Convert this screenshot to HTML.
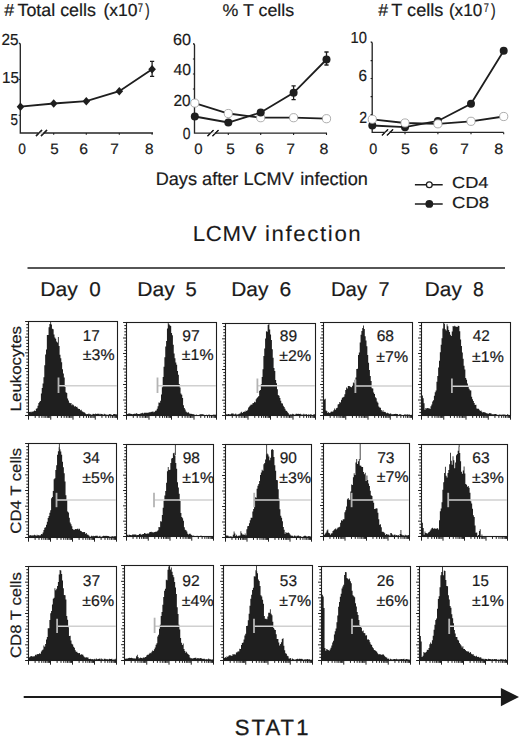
<!DOCTYPE html>
<html><head><meta charset="utf-8"><style>
html,body{margin:0;padding:0;background:#fff;}
svg{display:block;}
text{font-family:"Liberation Sans", sans-serif;fill:#1a1a1a;stroke:#1a1a1a;stroke-width:0.2px;text-rendering:geometricPrecision;}
</style></head><body>
<svg width="520" height="738" viewBox="0 0 520 738">
<text x="4.26" y="16.00" font-size="17.5" textLength="9.90" lengthAdjust="spacingAndGlyphs" >#</text>
<text x="17.49" y="16.00" font-size="17.5" textLength="78.39" lengthAdjust="spacingAndGlyphs" >Total cells</text>
<text x="103.40" y="16.20" font-size="17.5" textLength="34.07" lengthAdjust="spacingAndGlyphs" >(x10</text>
<text x="137.78" y="11.80" font-size="12.5" textLength="5.26" lengthAdjust="spacingAndGlyphs" >7</text>
<text x="145.28" y="16.20" font-size="17.5" textLength="4.40" lengthAdjust="spacingAndGlyphs" >)</text>
<text x="222.63" y="16.20" font-size="17" textLength="71.55" lengthAdjust="spacingAndGlyphs" >% T cells</text>
<text x="378.36" y="16.00" font-size="17.5" textLength="9.80" lengthAdjust="spacingAndGlyphs" >#</text>
<text x="391.29" y="16.00" font-size="17.5" textLength="52.12" lengthAdjust="spacingAndGlyphs" >T cells</text>
<text x="448.92" y="16.20" font-size="17.5" textLength="33.33" lengthAdjust="spacingAndGlyphs" >(x10</text>
<text x="483.79" y="11.80" font-size="12.5" textLength="5.13" lengthAdjust="spacingAndGlyphs" >7</text>
<text x="490.88" y="16.20" font-size="17.5" textLength="4.65" lengthAdjust="spacingAndGlyphs" >)</text>
<path d="M18.8 43.2Q20.3 43.2 20.3 44.5V133H153" fill="none" stroke="#262626" stroke-width="1.35"/>
<path d="M53.7 133v1.8M86.3 133v1.8M119.3 133v1.8M152.1 133v1.8M20.3 79.5h-1.6M20.3 115.2h-1.6" stroke="#1e1e1e" stroke-width="1.1"/>
<path d="M36 136L42 130M41 136L47 130" stroke="#1e1e1e" stroke-width="1.3"/>
<path d="M38.5 133h5" stroke="#fff" stroke-width="1.6"/>
<path d="M36 136L42 130M41 136L47 130" stroke="#1e1e1e" stroke-width="1.3"/>
<text x="1.59" y="45.10" font-size="16" textLength="17.01" lengthAdjust="spacingAndGlyphs" >25</text>
<text x="2.10" y="83.00" font-size="16" textLength="16.99" lengthAdjust="spacingAndGlyphs" >15</text>
<text x="10.51" y="124.90" font-size="16" textLength="7.49" lengthAdjust="spacingAndGlyphs" >5</text>
<polyline points="20.5,106.7 53.7,103.5 86.3,101.2 119.3,91.2 152.1,69.3" fill="none" stroke="#1e1e1e" stroke-width="1.8"/>
<path d="M152.1 61.4V76.4M150 61.4h4.2M150 76.4h4.2" stroke="#1e1e1e" stroke-width="1.3"/>
<path d="M20.5 102.5L24.3 106.7L20.5 110.9L16.7 106.7Z" fill="#1e1e1e"/>
<path d="M53.7 99.3L57.5 103.5L53.7 107.7L49.900000000000006 103.5Z" fill="#1e1e1e"/>
<path d="M86.3 97.0L90.1 101.2L86.3 105.4L82.5 101.2Z" fill="#1e1e1e"/>
<path d="M119.3 87.0L123.1 91.2L119.3 95.4L115.5 91.2Z" fill="#1e1e1e"/>
<path d="M152.1 65.1L155.9 69.3L152.1 73.5L148.29999999999998 69.3Z" fill="#1e1e1e"/>
<text x="18.20" y="153.90" font-size="15" textLength="7.65" lengthAdjust="spacingAndGlyphs" >0</text>
<text x="50.24" y="153.90" font-size="15" textLength="8.43" lengthAdjust="spacingAndGlyphs" >5</text>
<text x="79.37" y="153.90" font-size="15" textLength="8.73" lengthAdjust="spacingAndGlyphs" >6</text>
<text x="110.38" y="153.90" font-size="15" textLength="8.56" lengthAdjust="spacingAndGlyphs" >7</text>
<text x="144.96" y="153.90" font-size="15" textLength="8.52" lengthAdjust="spacingAndGlyphs" >8</text>
<path d="M193.0 43.7Q194.5 43.7 194.5 45.0V133.1H327" fill="none" stroke="#262626" stroke-width="1.35"/>
<path d="M228.3 133.1v1.8M260.7 133.1v1.8M293.6 133.1v1.8M326.5 133.1v1.8M194.5 59h-1.6M194.5 74h-1.6M194.5 89h-1.6M194.5 104h-1.6M194.5 119h-1.6" stroke="#1e1e1e" stroke-width="1.1"/>
<path d="M207.5 136.1L213.5 130.1M212.5 136.1L218.5 130.1" stroke="#1e1e1e" stroke-width="1.3"/>
<path d="M210.0 133.1h5" stroke="#fff" stroke-width="1.6"/>
<path d="M207.5 136.1L213.5 130.1M212.5 136.1L218.5 130.1" stroke="#1e1e1e" stroke-width="1.3"/>
<text x="173.04" y="44.90" font-size="16" textLength="18.01" lengthAdjust="spacingAndGlyphs" >60</text>
<text x="173.54" y="75.20" font-size="16" textLength="17.50" lengthAdjust="spacingAndGlyphs" >40</text>
<text x="173.48" y="105.90" font-size="16" textLength="17.15" lengthAdjust="spacingAndGlyphs" >20</text>
<text x="182.79" y="138.90" font-size="16" textLength="7.76" lengthAdjust="spacingAndGlyphs" >0</text>
<path d="M293.6 85.8V99.7M291.5 85.8h4.2M291.5 99.7h4.2M326.5 52V65M324.4 52h4.2M324.4 65h4.2" stroke="#1e1e1e" stroke-width="1.3"/>
<polyline points="194.8,103.1 228.3,113.5 260.7,117.7 293.6,117.7 326.5,118.7" fill="none" stroke="#1e1e1e" stroke-width="1.8"/>
<polyline points="194.8,116.5 228.3,122.5 260.7,112.5 293.6,92.8 326.5,59.5" fill="none" stroke="#1e1e1e" stroke-width="1.8"/>
<circle cx="194.8" cy="103.1" r="4.1" fill="#fff" stroke="#999" stroke-width="0.8"/>
<circle cx="228.3" cy="113.5" r="4.1" fill="#fff" stroke="#999" stroke-width="0.8"/>
<circle cx="260.7" cy="117.7" r="4.1" fill="#fff" stroke="#999" stroke-width="0.8"/>
<circle cx="293.6" cy="117.7" r="4.1" fill="#fff" stroke="#999" stroke-width="0.8"/>
<circle cx="326.5" cy="118.7" r="4.1" fill="#fff" stroke="#999" stroke-width="0.8"/>
<circle cx="194.8" cy="116.5" r="4" fill="#1e1e1e"/>
<circle cx="228.3" cy="122.5" r="4" fill="#1e1e1e"/>
<circle cx="260.7" cy="112.5" r="4" fill="#1e1e1e"/>
<circle cx="293.6" cy="92.8" r="4" fill="#1e1e1e"/>
<circle cx="326.5" cy="59.5" r="4" fill="#1e1e1e"/>
<text x="194.25" y="154.10" font-size="15" textLength="8.34" lengthAdjust="spacingAndGlyphs" >0</text>
<text x="226.24" y="154.10" font-size="15" textLength="8.55" lengthAdjust="spacingAndGlyphs" >5</text>
<text x="255.17" y="154.10" font-size="15" textLength="8.73" lengthAdjust="spacingAndGlyphs" >6</text>
<text x="286.59" y="154.10" font-size="15" textLength="8.43" lengthAdjust="spacingAndGlyphs" >7</text>
<text x="319.43" y="154.10" font-size="15" textLength="8.88" lengthAdjust="spacingAndGlyphs" >8</text>
<path d="M370.7 42.0Q372.2 42.0 372.2 43.3V132.4H503.7" fill="none" stroke="#262626" stroke-width="1.35"/>
<path d="M405 132.4v1.8M437.9 132.4v1.8M471 132.4v1.8M503.7 132.4v1.8M372.2 60.6h-1.6M372.2 78.5h-1.6M372.2 96.6h-1.6M372.2 114.5h-1.6" stroke="#1e1e1e" stroke-width="1.1"/>
<path d="M382 135.4L388 129.4M387 135.4L393 129.4" stroke="#1e1e1e" stroke-width="1.3"/>
<path d="M384.5 132.4h5" stroke="#fff" stroke-width="1.6"/>
<path d="M382 135.4L388 129.4M387 135.4L393 129.4" stroke="#1e1e1e" stroke-width="1.3"/>
<text x="350.55" y="42.80" font-size="16" textLength="16.35" lengthAdjust="spacingAndGlyphs" >10</text>
<text x="358.49" y="80.80" font-size="16" textLength="8.49" lengthAdjust="spacingAndGlyphs" >6</text>
<text x="359.15" y="122.60" font-size="16" textLength="7.82" lengthAdjust="spacingAndGlyphs" >2</text>
<polyline points="372.3,125.5 405,127.2 437.9,121 471,103.7 503.7,50.8" fill="none" stroke="#1e1e1e" stroke-width="1.8"/>
<polyline points="372.3,119.3 405,123 437.9,123.8 471,121.3 503.7,116.5" fill="none" stroke="#1e1e1e" stroke-width="1.8"/>
<circle cx="372.3" cy="125.5" r="4" fill="#1e1e1e"/>
<circle cx="405" cy="127.2" r="4" fill="#1e1e1e"/>
<circle cx="437.9" cy="121" r="4" fill="#1e1e1e"/>
<circle cx="471" cy="103.7" r="4" fill="#1e1e1e"/>
<circle cx="503.7" cy="50.8" r="4" fill="#1e1e1e"/>
<circle cx="372.3" cy="119.3" r="4.1" fill="#fff" stroke="#999" stroke-width="0.8"/>
<circle cx="405" cy="123" r="4.1" fill="#fff" stroke="#999" stroke-width="0.8"/>
<circle cx="437.9" cy="123.8" r="4.1" fill="#fff" stroke="#999" stroke-width="0.8"/>
<circle cx="471" cy="121.3" r="4.1" fill="#fff" stroke="#999" stroke-width="0.8"/>
<circle cx="503.7" cy="116.5" r="4.1" fill="#fff" stroke="#999" stroke-width="0.8"/>
<text x="369.18" y="154.10" font-size="15" textLength="7.99" lengthAdjust="spacingAndGlyphs" >0</text>
<text x="401.11" y="154.10" font-size="15" textLength="8.90" lengthAdjust="spacingAndGlyphs" >5</text>
<text x="429.37" y="154.10" font-size="15" textLength="8.73" lengthAdjust="spacingAndGlyphs" >6</text>
<text x="460.38" y="154.10" font-size="15" textLength="8.56" lengthAdjust="spacingAndGlyphs" >7</text>
<text x="494.22" y="154.10" font-size="15" textLength="8.99" lengthAdjust="spacingAndGlyphs" >8</text>
<text x="155.70" y="185.10" font-size="18.3" textLength="138.10" lengthAdjust="spacingAndGlyphs" >Days after LCMV</text>
<text x="300.27" y="185.10" font-size="18.3" textLength="67.55" lengthAdjust="spacingAndGlyphs" >infection</text>
<path d="M414.9 184.7H442.7M414.9 203.9H442.7" stroke="#1e1e1e" stroke-width="1.5"/>
<circle cx="429.3" cy="184.7" r="2.9" fill="#fff" stroke="#1e1e1e" stroke-width="1.3"/>
<circle cx="429.3" cy="203.9" r="3.9" fill="#1e1e1e"/>
<text x="452.04" y="188.00" font-size="16" textLength="36.47" lengthAdjust="spacingAndGlyphs" >CD4</text>
<text x="452.02" y="208.00" font-size="16" textLength="37.08" lengthAdjust="spacingAndGlyphs" >CD8</text>
<text transform="scale(1.03 1)" x="187.20" y="240.80" font-size="21.6" textLength="61.81" lengthAdjust="spacing" style="stroke-width:0.1px">LCMV</text>
<text transform="scale(1.03 1)" x="257.24" y="240.80" font-size="21.6" textLength="93.00" lengthAdjust="spacing" style="stroke-width:0.1px">infection</text>
<path d="M27.5 268H505" stroke="#1e1e1e" stroke-width="1.7"/>
<text x="40.26" y="295.60" font-size="20" textLength="37.55" lengthAdjust="spacingAndGlyphs" >Day</text>
<text x="89.33" y="295.60" font-size="20" textLength="11.47" lengthAdjust="spacingAndGlyphs" >0</text>
<text x="137.27" y="295.60" font-size="20" textLength="37.45" lengthAdjust="spacingAndGlyphs" >Day</text>
<text x="185.64" y="295.60" font-size="20" textLength="11.24" lengthAdjust="spacingAndGlyphs" >5</text>
<text x="231.28" y="295.60" font-size="20" textLength="37.14" lengthAdjust="spacingAndGlyphs" >Day</text>
<text x="279.40" y="295.60" font-size="20" textLength="11.72" lengthAdjust="spacingAndGlyphs" >6</text>
<text x="330.92" y="295.60" font-size="20" textLength="36.19" lengthAdjust="spacingAndGlyphs" >Day</text>
<text x="378.56" y="295.60" font-size="20" textLength="11.00" lengthAdjust="spacingAndGlyphs" >7</text>
<text x="424.89" y="295.60" font-size="20" textLength="36.93" lengthAdjust="spacingAndGlyphs" >Day</text>
<text x="473.08" y="295.60" font-size="20" textLength="10.77" lengthAdjust="spacingAndGlyphs" >8</text>
<path d="M29.00 415.50V412.07H29.85V411.71H30.70V412.34H31.55V411.40H32.40V411.81H33.25V411.31H34.10V410.56H34.95V411.02H35.80V408.68H36.65V408.24H37.50V405.71H38.35V403.08H39.20V401.65H40.05V400.93H40.90V393.39H41.75V388.11H42.60V383.56H43.45V377.20H44.30V365.18H45.15V354.46H46.00V349.56H46.85V334.90H47.70V335.08H48.55V327.17H49.40V323.93H50.25V322.10H51.10V324.49H51.95V328.82H52.80V329.24H53.65V334.39H54.50V337.56H55.35V338.84H56.20V341.40H57.05V342.43H57.90V337.09H58.75V346.06H59.60V354.80H60.45V358.23H61.30V362.33H62.15V369.27H63.00V373.47H63.85V377.58H64.70V387.04H65.55V392.25H66.40V392.89H67.25V398.58H68.10V400.46H68.95V402.76H69.80V403.27H70.65V403.04H71.50V405.31H72.35V404.15H73.20V405.30H74.05V406.48H74.90V405.92H75.75V407.08H76.60V406.75H77.45V408.34H78.30V408.98H79.15V409.12H80.00V410.31H80.85V409.87H81.70V411.23H82.55V411.66H83.40V412.13H84.25V412.40H85.10V413.57H85.95V414.24H86.80V413.92H87.65V414.25H88.50V413.47H89.35V414.29H90.20V414.24H91.05V414.67H91.90V414.48H92.75V413.84H93.60V413.98H94.45V414.34H95.30V413.57H96.15V414.11H97.00V413.77H97.85V413.73H98.70V413.67H99.55V414.55H100.40V413.78H101.25V413.94H102.10V414.13H102.95V414.73H103.80V413.78H104.65V414.25H105.50V414.38H106.35V414.81H107.20V414.74H108.05V414.81H108.90V414.11H109.75V414.30H110.60V414.24H111.45V414.90H112.30V415.00H113.15V414.03H114.00V414.08H114.85V414.16H115.70V414.18H116.55V414.48H117.00V415.50Z" fill="#1f1f1f"/>
<rect x="28.5" y="321.5" width="89.00" height="94.00" fill="none" stroke="#1e1e1e" stroke-width="1.1"/>
<path d="M28.50 415.50h-3.4M28.50 412.37h-2.2M28.50 409.23h-2.2M28.50 406.10h-2.2M28.50 402.97h-2.2M28.50 399.83h-3.4M28.50 396.70h-2.2M28.50 393.57h-2.2M28.50 390.43h-2.2M28.50 387.30h-2.2M28.50 384.17h-3.4M28.50 381.03h-2.2M28.50 377.90h-2.2M28.50 374.77h-2.2M28.50 371.63h-2.2M28.50 368.50h-3.4M28.50 365.37h-2.2M28.50 362.23h-2.2M28.50 359.10h-2.2M28.50 355.97h-2.2M28.50 352.83h-3.4M28.50 349.70h-2.2M28.50 346.57h-2.2M28.50 343.43h-2.2M28.50 340.30h-2.2M28.50 337.17h-3.4M28.50 334.03h-2.2M28.50 330.90h-2.2M28.50 327.77h-2.2M28.50 324.63h-2.2M28.50 321.50h-3.4M28.50 415.50v4.2M35.20 415.50v2.4M39.12 415.50v2.4M41.90 415.50v2.4M44.05 415.50v2.4M45.81 415.50v2.4M47.30 415.50v2.4M48.59 415.50v2.4M49.73 415.50v2.4M50.75 415.50v4.2M57.45 415.50v2.4M61.37 415.50v2.4M64.15 415.50v2.4M66.30 415.50v2.4M68.06 415.50v2.4M69.55 415.50v2.4M70.84 415.50v2.4M71.98 415.50v2.4M73.00 415.50v4.2M79.70 415.50v2.4M83.62 415.50v2.4M86.40 415.50v2.4M88.55 415.50v2.4M90.31 415.50v2.4M91.80 415.50v2.4M93.09 415.50v2.4M94.23 415.50v2.4M95.25 415.50v4.2M101.95 415.50v2.4M105.87 415.50v2.4M108.65 415.50v2.4M110.80 415.50v2.4M112.56 415.50v2.4M114.05 415.50v2.4M115.34 415.50v2.4M116.48 415.50v2.4M117.50 415.50v4.2" stroke="#1e1e1e" stroke-width="1" fill="none"/>
<path d="M58.5 385.8H116.90" stroke="#d0d0d0" stroke-width="1.5"/>
<path d="M58.5 377.5V393" stroke="#b4b4b4" stroke-width="1.8"/>
<text x="82.81" y="340.50" font-size="15.5" textLength="16.94" lengthAdjust="spacingAndGlyphs" >17</text>
<text x="82.87" y="359.70" font-size="15.5" textLength="31.72" lengthAdjust="spacingAndGlyphs" >±3%</text>
<path d="M127.00 415.50V414.09H127.85V413.66H128.70V413.30H129.55V413.79H130.40V413.69H131.25V413.90H132.10V414.35H132.95V413.99H133.80V413.74H134.65V413.84H135.50V413.87H136.35V413.07H137.20V414.09H138.05V413.91H138.90V413.99H139.75V413.86H140.60V413.31H141.45V413.27H142.30V412.85H143.15V413.47H144.00V412.70H144.85V412.66H145.70V412.79H146.55V412.68H147.40V412.85H148.25V412.42H149.10V412.14H149.95V412.13H150.80V411.85H151.65V412.02H152.50V411.33H153.35V412.33H154.20V411.70H155.05V410.76H155.90V410.50H156.75V408.66H157.60V406.22H158.45V402.49H159.30V402.76H160.15V400.87H161.00V394.49H161.85V387.25H162.70V377.03H163.55V366.75H164.40V357.30H165.25V346.51H166.10V341.08H166.95V328.44H167.80V323.10H168.65V324.18H169.50V325.32H170.35V326.10H171.20V333.06H172.05V335.21H172.90V344.65H173.75V353.55H174.60V358.17H175.45V362.41H176.30V364.73H177.15V370.94H178.00V374.63H178.85V384.05H179.70V387.39H180.55V393.57H181.40V394.65H182.25V398.08H183.10V405.17H183.95V408.06H184.80V409.53H185.65V411.42H186.50V412.37H187.35V412.67H188.20V412.24H189.05V413.47H189.90V413.81H190.75V413.82H191.60V413.93H192.45V414.35H193.30V414.33H194.15V414.86H195.00V415.19H195.85V414.58H196.70V415.18H197.55V415.25H198.40V415.22H199.25V414.51H200.10V414.34H200.95V414.36H201.80V414.33H202.65V414.34H203.50V414.86H204.35V415.20H205.20V415.13H206.05V414.70H206.90V414.92H207.75V415.11H208.60V414.25H209.45V414.95H210.30V415.26H211.15V415.11H212.00V415.08H212.85V414.76H213.70V414.40H214.55V415.15H215.40V414.60H216.00V415.50Z" fill="#1f1f1f"/>
<rect x="126.5" y="322.5" width="90.00" height="93.00" fill="none" stroke="#1e1e1e" stroke-width="1.1"/>
<path d="M126.50 415.50h-3.4M126.50 412.40h-2.2M126.50 409.30h-2.2M126.50 406.20h-2.2M126.50 403.10h-2.2M126.50 400.00h-3.4M126.50 396.90h-2.2M126.50 393.80h-2.2M126.50 390.70h-2.2M126.50 387.60h-2.2M126.50 384.50h-3.4M126.50 381.40h-2.2M126.50 378.30h-2.2M126.50 375.20h-2.2M126.50 372.10h-2.2M126.50 369.00h-3.4M126.50 365.90h-2.2M126.50 362.80h-2.2M126.50 359.70h-2.2M126.50 356.60h-2.2M126.50 353.50h-3.4M126.50 350.40h-2.2M126.50 347.30h-2.2M126.50 344.20h-2.2M126.50 341.10h-2.2M126.50 338.00h-3.4M126.50 334.90h-2.2M126.50 331.80h-2.2M126.50 328.70h-2.2M126.50 325.60h-2.2M126.50 322.50h-3.4M126.50 415.50v4.2M133.27 415.50v2.4M137.24 415.50v2.4M140.05 415.50v2.4M142.23 415.50v2.4M144.01 415.50v2.4M145.51 415.50v2.4M146.82 415.50v2.4M147.97 415.50v2.4M149.00 415.50v4.2M155.77 415.50v2.4M159.74 415.50v2.4M162.55 415.50v2.4M164.73 415.50v2.4M166.51 415.50v2.4M168.01 415.50v2.4M169.32 415.50v2.4M170.47 415.50v2.4M171.50 415.50v4.2M178.27 415.50v2.4M182.24 415.50v2.4M185.05 415.50v2.4M187.23 415.50v2.4M189.01 415.50v2.4M190.51 415.50v2.4M191.82 415.50v2.4M192.97 415.50v2.4M194.00 415.50v4.2M200.77 415.50v2.4M204.74 415.50v2.4M207.55 415.50v2.4M209.73 415.50v2.4M211.51 415.50v2.4M213.01 415.50v2.4M214.32 415.50v2.4M215.47 415.50v2.4M216.50 415.50v4.2" stroke="#1e1e1e" stroke-width="1" fill="none"/>
<path d="M157.5 385.8H215.90" stroke="#d0d0d0" stroke-width="1.5"/>
<path d="M157.5 377.5V393" stroke="#b4b4b4" stroke-width="1.8"/>
<text x="182.25" y="340.50" font-size="15.5" textLength="17.42" lengthAdjust="spacingAndGlyphs" >97</text>
<text x="181.87" y="359.70" font-size="15.5" textLength="31.72" lengthAdjust="spacingAndGlyphs" >±1%</text>
<path d="M226.00 415.50V414.36H226.85V414.57H227.70V413.88H228.55V413.88H229.40V414.54H230.25V414.27H231.10V413.60H231.95V413.55H232.80V413.58H233.65V414.49H234.50V414.37H235.35V413.58H236.20V414.39H237.05V414.58H237.90V414.20H238.75V413.70H239.60V413.56H240.45V412.44H241.30V411.81H242.15V413.01H243.00V412.05H243.85V411.44H244.70V411.72H245.55V410.48H246.40V410.89H247.25V409.83H248.10V407.39H248.95V406.43H249.80V405.50H250.65V404.54H251.50V404.64H252.35V403.34H253.20V403.00H254.05V401.67H254.90V402.14H255.75V399.21H256.60V398.04H257.45V396.98H258.30V396.11H259.15V390.73H260.00V390.01H260.85V384.31H261.70V376.96H262.55V369.21H263.40V355.90H264.25V348.56H265.10V338.52H265.95V331.24H266.80V331.63H267.65V325.00H268.50V324.10H269.35V329.48H270.20V334.60H271.05V340.04H271.90V349.26H272.75V357.69H273.60V367.93H274.45V371.03H275.30V379.96H276.15V383.37H277.00V389.37H277.85V395.11H278.70V395.75H279.55V398.01H280.40V400.79H281.25V403.28H282.10V403.39H282.95V405.66H283.80V407.04H284.65V408.78H285.50V410.55H286.35V410.99H287.20V412.30H288.05V413.27H288.90V414.85H289.75V414.33H290.60V414.50H291.45V414.60H292.30V413.78H293.15V414.16H294.00V414.65H294.85V414.54H295.70V413.70H296.55V413.70H297.40V414.11H298.25V413.67H299.10V413.89H299.95V413.71H300.80V414.45H301.65V414.61H302.50V414.76H303.35V413.87H304.20V414.58H305.05V414.53H305.90V413.91H306.75V414.83H307.60V414.95H308.45V414.06H309.30V414.97H310.15V414.31H311.00V414.43H311.85V415.06H312.70V414.89H313.55V414.09H314.40V414.42H315.00V415.50Z" fill="#1f1f1f"/>
<rect x="225.5" y="323.5" width="90.00" height="92.00" fill="none" stroke="#1e1e1e" stroke-width="1.1"/>
<path d="M225.50 415.50h-3.4M225.50 412.43h-2.2M225.50 409.37h-2.2M225.50 406.30h-2.2M225.50 403.23h-2.2M225.50 400.17h-3.4M225.50 397.10h-2.2M225.50 394.03h-2.2M225.50 390.97h-2.2M225.50 387.90h-2.2M225.50 384.83h-3.4M225.50 381.77h-2.2M225.50 378.70h-2.2M225.50 375.63h-2.2M225.50 372.57h-2.2M225.50 369.50h-3.4M225.50 366.43h-2.2M225.50 363.37h-2.2M225.50 360.30h-2.2M225.50 357.23h-2.2M225.50 354.17h-3.4M225.50 351.10h-2.2M225.50 348.03h-2.2M225.50 344.97h-2.2M225.50 341.90h-2.2M225.50 338.83h-3.4M225.50 335.77h-2.2M225.50 332.70h-2.2M225.50 329.63h-2.2M225.50 326.57h-2.2M225.50 323.50h-3.4M225.50 415.50v4.2M232.27 415.50v2.4M236.24 415.50v2.4M239.05 415.50v2.4M241.23 415.50v2.4M243.01 415.50v2.4M244.51 415.50v2.4M245.82 415.50v2.4M246.97 415.50v2.4M248.00 415.50v4.2M254.77 415.50v2.4M258.74 415.50v2.4M261.55 415.50v2.4M263.73 415.50v2.4M265.51 415.50v2.4M267.01 415.50v2.4M268.32 415.50v2.4M269.47 415.50v2.4M270.50 415.50v4.2M277.27 415.50v2.4M281.24 415.50v2.4M284.05 415.50v2.4M286.23 415.50v2.4M288.01 415.50v2.4M289.51 415.50v2.4M290.82 415.50v2.4M291.97 415.50v2.4M293.00 415.50v4.2M299.77 415.50v2.4M303.74 415.50v2.4M306.55 415.50v2.4M308.73 415.50v2.4M310.51 415.50v2.4M312.01 415.50v2.4M313.32 415.50v2.4M314.47 415.50v2.4M315.50 415.50v4.2" stroke="#1e1e1e" stroke-width="1" fill="none"/>
<path d="M257.4 385.8H314.90" stroke="#d0d0d0" stroke-width="1.5"/>
<path d="M257.4 378.5V393" stroke="#b4b4b4" stroke-width="1.8"/>
<text x="279.75" y="341.40" font-size="15.5" textLength="17.34" lengthAdjust="spacingAndGlyphs" >89</text>
<text x="279.37" y="360.70" font-size="15.5" textLength="31.72" lengthAdjust="spacingAndGlyphs" >±2%</text>
<path d="M324.00 415.50V399.62H324.85V398.74H325.70V410.38H326.55V411.28H327.40V413.03H328.25V412.08H329.10V413.06H329.95V412.57H330.80V411.54H331.65V411.63H332.50V411.38H333.35V410.36H334.20V408.59H335.05V409.76H335.90V408.31H336.75V407.75H337.60V404.62H338.45V403.95H339.30V401.95H340.15V402.55H341.00V399.68H341.85V397.81H342.70V397.13H343.55V396.64H344.40V394.23H345.25V389.97H346.10V387.49H346.95V388.48H347.80V386.06H348.65V386.00H349.50V386.33H350.35V387.10H351.20V387.22H352.05V385.82H352.90V382.49H353.75V383.27H354.60V380.06H355.45V377.61H356.30V369.01H357.15V368.72H358.00V354.88H358.85V352.45H359.70V342.58H360.55V334.87H361.40V331.06H362.25V327.93H363.10V325.61H363.95V328.94H364.80V336.13H365.65V340.59H366.50V346.21H367.35V354.99H368.20V362.78H369.05V370.06H369.90V375.90H370.75V380.98H371.60V388.32H372.45V388.52H373.30V392.51H374.15V393.97H375.00V397.15H375.85V398.19H376.70V401.54H377.55V402.66H378.40V406.50H379.25V407.39H380.10V407.82H380.95V410.09H381.80V411.53H382.65V410.31H383.50V411.96H384.35V411.72H385.20V412.23H386.05V413.20H386.90V412.85H387.75V413.17H388.60V413.56H389.45V414.11H390.30V413.37H391.15V414.18H392.00V414.15H392.85V414.20H393.70V414.02H394.55V414.09H395.40V413.83H396.25V414.09H397.10V414.06H397.95V414.92H398.80V414.34H399.65V414.24H400.50V414.15H401.35V415.08H402.20V415.13H403.05V414.90H403.90V414.44H404.75V414.40H405.60V414.47H406.45V414.69H407.30V414.33H408.15V414.69H409.00V414.48H409.85V415.34H410.70V415.37H411.55V414.86H412.00V415.50Z" fill="#1f1f1f"/>
<rect x="323.5" y="322.5" width="89.00" height="93.00" fill="none" stroke="#1e1e1e" stroke-width="1.1"/>
<path d="M323.50 415.50h-3.4M323.50 412.40h-2.2M323.50 409.30h-2.2M323.50 406.20h-2.2M323.50 403.10h-2.2M323.50 400.00h-3.4M323.50 396.90h-2.2M323.50 393.80h-2.2M323.50 390.70h-2.2M323.50 387.60h-2.2M323.50 384.50h-3.4M323.50 381.40h-2.2M323.50 378.30h-2.2M323.50 375.20h-2.2M323.50 372.10h-2.2M323.50 369.00h-3.4M323.50 365.90h-2.2M323.50 362.80h-2.2M323.50 359.70h-2.2M323.50 356.60h-2.2M323.50 353.50h-3.4M323.50 350.40h-2.2M323.50 347.30h-2.2M323.50 344.20h-2.2M323.50 341.10h-2.2M323.50 338.00h-3.4M323.50 334.90h-2.2M323.50 331.80h-2.2M323.50 328.70h-2.2M323.50 325.60h-2.2M323.50 322.50h-3.4M323.50 415.50v4.2M330.20 415.50v2.4M334.12 415.50v2.4M336.90 415.50v2.4M339.05 415.50v2.4M340.81 415.50v2.4M342.30 415.50v2.4M343.59 415.50v2.4M344.73 415.50v2.4M345.75 415.50v4.2M352.45 415.50v2.4M356.37 415.50v2.4M359.15 415.50v2.4M361.30 415.50v2.4M363.06 415.50v2.4M364.55 415.50v2.4M365.84 415.50v2.4M366.98 415.50v2.4M368.00 415.50v4.2M374.70 415.50v2.4M378.62 415.50v2.4M381.40 415.50v2.4M383.55 415.50v2.4M385.31 415.50v2.4M386.80 415.50v2.4M388.09 415.50v2.4M389.23 415.50v2.4M390.25 415.50v4.2M396.95 415.50v2.4M400.87 415.50v2.4M403.65 415.50v2.4M405.80 415.50v2.4M407.56 415.50v2.4M409.05 415.50v2.4M410.34 415.50v2.4M411.48 415.50v2.4M412.50 415.50v4.2" stroke="#1e1e1e" stroke-width="1" fill="none"/>
<path d="M355.4 386H411.90" stroke="#d0d0d0" stroke-width="1.5"/>
<path d="M355.4 379.4V393" stroke="#b4b4b4" stroke-width="1.8"/>
<text x="376.67" y="341.40" font-size="15.5" textLength="17.34" lengthAdjust="spacingAndGlyphs" >68</text>
<text x="376.37" y="361.60" font-size="15.5" textLength="31.72" lengthAdjust="spacingAndGlyphs" >±7%</text>
<path d="M422.00 415.50V395.49H422.85V398.18H423.70V403.28H424.55V409.79H425.40V407.92H426.25V408.60H427.10V407.97H427.95V408.32H428.80V408.18H429.65V408.93H430.50V406.14H431.35V404.40H432.20V401.38H433.05V400.15H433.90V395.68H434.75V392.36H435.60V390.41H436.45V381.63H437.30V375.97H438.15V367.39H439.00V360.82H439.85V352.13H440.70V344.81H441.55V338.37H442.40V328.50H443.25V323.10H444.10V323.74H444.95V329.25H445.80V330.41H446.65V324.26H447.50V326.29H448.35V330.04H449.20V332.12H450.05V334.66H450.90V335.98H451.75V331.46H452.60V325.95H453.45V326.48H454.30V325.71H455.15V326.42H456.00V326.66H456.85V326.93H457.70V325.82H458.55V326.03H459.40V331.20H460.25V339.43H461.10V346.01H461.95V352.52H462.80V358.70H463.65V365.78H464.50V369.52H465.35V377.96H466.20V379.70H467.05V383.50H467.90V386.19H468.75V388.65H469.60V390.14H470.45V390.52H471.30V396.64H472.15V399.25H473.00V400.94H473.85V402.96H474.70V405.04H475.55V404.81H476.40V408.57H477.25V408.65H478.10V408.79H478.95V409.72H479.80V410.93H480.65V410.46H481.50V411.78H482.35V412.57H483.20V412.10H484.05V412.15H484.90V412.52H485.75V413.04H486.60V413.38H487.45V413.38H488.30V413.63H489.15V413.01H490.00V413.28H490.85V413.59H491.70V414.43H492.55V413.98H493.40V414.51H494.25V413.93H495.10V414.05H495.95V414.34H496.80V414.84H497.65V414.88H498.50V414.87H499.35V414.41H500.20V414.70H501.05V414.65H501.90V414.66H502.75V414.25H503.60V415.21H504.45V414.37H505.30V415.33H506.15V415.29H507.00V414.19H507.85V414.74H508.70V415.18H509.55V415.36H510.00V415.50Z" fill="#1f1f1f"/>
<rect x="421.5" y="322.5" width="89.00" height="93.00" fill="none" stroke="#1e1e1e" stroke-width="1.1"/>
<path d="M421.50 415.50h-3.4M421.50 412.40h-2.2M421.50 409.30h-2.2M421.50 406.20h-2.2M421.50 403.10h-2.2M421.50 400.00h-3.4M421.50 396.90h-2.2M421.50 393.80h-2.2M421.50 390.70h-2.2M421.50 387.60h-2.2M421.50 384.50h-3.4M421.50 381.40h-2.2M421.50 378.30h-2.2M421.50 375.20h-2.2M421.50 372.10h-2.2M421.50 369.00h-3.4M421.50 365.90h-2.2M421.50 362.80h-2.2M421.50 359.70h-2.2M421.50 356.60h-2.2M421.50 353.50h-3.4M421.50 350.40h-2.2M421.50 347.30h-2.2M421.50 344.20h-2.2M421.50 341.10h-2.2M421.50 338.00h-3.4M421.50 334.90h-2.2M421.50 331.80h-2.2M421.50 328.70h-2.2M421.50 325.60h-2.2M421.50 322.50h-3.4M421.50 415.50v4.2M428.20 415.50v2.4M432.12 415.50v2.4M434.90 415.50v2.4M437.05 415.50v2.4M438.81 415.50v2.4M440.30 415.50v2.4M441.59 415.50v2.4M442.73 415.50v2.4M443.75 415.50v4.2M450.45 415.50v2.4M454.37 415.50v2.4M457.15 415.50v2.4M459.30 415.50v2.4M461.06 415.50v2.4M462.55 415.50v2.4M463.84 415.50v2.4M464.98 415.50v2.4M466.00 415.50v4.2M472.70 415.50v2.4M476.62 415.50v2.4M479.40 415.50v2.4M481.55 415.50v2.4M483.31 415.50v2.4M484.80 415.50v2.4M486.09 415.50v2.4M487.23 415.50v2.4M488.25 415.50v4.2M494.95 415.50v2.4M498.87 415.50v2.4M501.65 415.50v2.4M503.80 415.50v2.4M505.56 415.50v2.4M507.05 415.50v2.4M508.34 415.50v2.4M509.48 415.50v2.4M510.50 415.50v4.2" stroke="#1e1e1e" stroke-width="1" fill="none"/>
<path d="M451.9 386.2H509.90" stroke="#d0d0d0" stroke-width="1.5"/>
<path d="M451.9 378.5V393" stroke="#b4b4b4" stroke-width="1.8"/>
<text x="472.84" y="341.40" font-size="15.5" textLength="17.01" lengthAdjust="spacingAndGlyphs" >42</text>
<text x="472.07" y="361.60" font-size="15.5" textLength="31.72" lengthAdjust="spacingAndGlyphs" >±1%</text>
<path d="M29.00 537.50V535.38H29.85V535.13H30.70V535.02H31.55V535.90H32.40V534.96H33.25V535.38H34.10V534.81H34.95V535.25H35.80V535.74H36.65V534.70H37.50V535.51H38.35V535.10H39.20V535.53H40.05V535.32H40.90V534.10H41.75V534.37H42.60V532.40H43.45V529.99H44.30V527.73H45.15V527.13H46.00V524.78H46.85V521.75H47.70V518.11H48.55V516.03H49.40V512.73H50.25V510.17H51.10V498.16H51.95V497.07H52.80V491.12H53.65V479.24H54.50V478.21H55.35V469.99H56.20V465.31H57.05V454.86H57.90V451.14H58.75V447.29H59.60V449.34H60.45V451.46H61.30V454.76H62.15V461.70H63.00V467.31H63.85V473.37H64.70V481.45H65.55V495.28H66.40V499.96H67.25V511.52H68.10V512.62H68.95V517.67H69.80V522.58H70.65V524.33H71.50V526.33H72.35V529.12H73.20V529.86H74.05V529.63H74.90V529.07H75.75V529.29H76.60V529.06H77.45V528.50H78.30V529.45H79.15V528.85H80.00V530.84H80.85V530.94H81.70V531.94H82.55V532.13H83.40V531.92H84.25V531.90H85.10V533.86H85.95V533.07H86.80V534.39H87.65V534.80H88.50V535.42H89.35V536.38H90.20V536.67H91.05V535.75H91.90V536.25H92.75V535.83H93.60V536.16H94.45V535.98H95.30V535.72H96.15V535.73H97.00V535.80H97.85V536.66H98.70V536.18H99.55V535.86H100.40V536.71H101.25V536.84H102.10V536.19H102.95V535.83H103.80V535.91H104.65V535.80H105.50V536.12H106.35V535.83H107.20V536.03H108.05V536.07H108.90V536.46H109.75V536.86H110.60V536.71H111.45V536.32H112.30V536.33H113.15V536.48H114.00V536.32H114.85V536.29H115.70V535.97H116.00V537.50Z" fill="#1f1f1f"/>
<path d="M59.4 443.5V450" stroke="#333" stroke-width="0.9"/>
<rect x="28.5" y="443.5" width="88.00" height="94.00" fill="none" stroke="#1e1e1e" stroke-width="1.1"/>
<path d="M28.50 537.50h-3.4M28.50 534.37h-2.2M28.50 531.23h-2.2M28.50 528.10h-2.2M28.50 524.97h-2.2M28.50 521.83h-3.4M28.50 518.70h-2.2M28.50 515.57h-2.2M28.50 512.43h-2.2M28.50 509.30h-2.2M28.50 506.17h-3.4M28.50 503.03h-2.2M28.50 499.90h-2.2M28.50 496.77h-2.2M28.50 493.63h-2.2M28.50 490.50h-3.4M28.50 487.37h-2.2M28.50 484.23h-2.2M28.50 481.10h-2.2M28.50 477.97h-2.2M28.50 474.83h-3.4M28.50 471.70h-2.2M28.50 468.57h-2.2M28.50 465.43h-2.2M28.50 462.30h-2.2M28.50 459.17h-3.4M28.50 456.03h-2.2M28.50 452.90h-2.2M28.50 449.77h-2.2M28.50 446.63h-2.2M28.50 443.50h-3.4M28.50 537.50v4.2M35.12 537.50v2.4M39.00 537.50v2.4M41.75 537.50v2.4M43.88 537.50v2.4M45.62 537.50v2.4M47.09 537.50v2.4M48.37 537.50v2.4M49.49 537.50v2.4M50.50 537.50v4.2M57.12 537.50v2.4M61.00 537.50v2.4M63.75 537.50v2.4M65.88 537.50v2.4M67.62 537.50v2.4M69.09 537.50v2.4M70.37 537.50v2.4M71.49 537.50v2.4M72.50 537.50v4.2M79.12 537.50v2.4M83.00 537.50v2.4M85.75 537.50v2.4M87.88 537.50v2.4M89.62 537.50v2.4M91.09 537.50v2.4M92.37 537.50v2.4M93.49 537.50v2.4M94.50 537.50v4.2M101.12 537.50v2.4M105.00 537.50v2.4M107.75 537.50v2.4M109.88 537.50v2.4M111.62 537.50v2.4M113.09 537.50v2.4M114.37 537.50v2.4M115.49 537.50v2.4M116.50 537.50v4.2" stroke="#1e1e1e" stroke-width="1" fill="none"/>
<path d="M56.5 499.9H115.90" stroke="#d0d0d0" stroke-width="1.5"/>
<path d="M56.5 492.8V507.2" stroke="#b4b4b4" stroke-width="1.8"/>
<text x="82.84" y="463.40" font-size="15.5" textLength="17.01" lengthAdjust="spacingAndGlyphs" >34</text>
<text x="82.37" y="482.70" font-size="15.5" textLength="31.72" lengthAdjust="spacingAndGlyphs" >±5%</text>
<path d="M127.00 536.50V534.71H127.85V535.53H128.70V534.45H129.55V534.89H130.40V535.01H131.25V535.27H132.10V534.44H132.95V534.47H133.80V534.41H134.65V534.57H135.50V534.59H136.35V535.19H137.20V535.02H138.05V535.02H138.90V533.92H139.75V533.86H140.60V534.58H141.45V534.68H142.30V533.93H143.15V533.92H144.00V532.93H144.85V533.31H145.70V533.89H146.55V533.58H147.40V533.46H148.25V533.45H149.10V532.27H149.95V531.91H150.80V531.81H151.65V532.15H152.50V532.21H153.35V532.43H154.20V531.98H155.05V531.74H155.90V531.76H156.75V531.18H157.60V530.27H158.45V526.96H159.30V527.26H160.15V521.32H161.00V521.47H161.85V515.03H162.70V507.79H163.55V500.73H164.40V495.58H165.25V490.88H166.10V482.74H166.95V471.19H167.80V466.93H168.65V469.88H169.50V469.71H170.35V463.05H171.20V458.46H172.05V457.97H172.90V453.17H173.75V452.63H174.60V455.44H175.45V463.06H176.30V468.87H177.15V482.25H178.00V487.62H178.85V493.63H179.70V500.96H180.55V513.03H181.40V516.98H182.25V518.14H183.10V520.66H183.95V527.28H184.80V529.71H185.65V530.37H186.50V531.60H187.35V533.65H188.20V534.55H189.05V533.67H189.90V533.79H190.75V534.76H191.60V535.35H192.45V536.22H193.30V535.59H194.15V536.42H195.00V536.35H195.85V536.09H196.70V535.74H197.55V536.50H198.40V535.91H199.25V536.50H200.10V535.85H200.95V535.86H201.80V536.50H202.65V535.99H203.50V536.50H204.35V536.28H205.20V535.93H206.05V535.99H206.90V536.25H207.75V536.50H208.60V536.50H209.45V535.98H210.30V536.30H211.15V536.10H212.00V536.50H212.85V536.06H213.00V536.50Z" fill="#1f1f1f"/>
<path d="M175.4 444.5V455" stroke="#333" stroke-width="0.9"/>
<rect x="126.5" y="444.5" width="87.00" height="92.00" fill="none" stroke="#1e1e1e" stroke-width="1.1"/>
<path d="M126.50 536.50h-3.4M126.50 533.43h-2.2M126.50 530.37h-2.2M126.50 527.30h-2.2M126.50 524.23h-2.2M126.50 521.17h-3.4M126.50 518.10h-2.2M126.50 515.03h-2.2M126.50 511.97h-2.2M126.50 508.90h-2.2M126.50 505.83h-3.4M126.50 502.77h-2.2M126.50 499.70h-2.2M126.50 496.63h-2.2M126.50 493.57h-2.2M126.50 490.50h-3.4M126.50 487.43h-2.2M126.50 484.37h-2.2M126.50 481.30h-2.2M126.50 478.23h-2.2M126.50 475.17h-3.4M126.50 472.10h-2.2M126.50 469.03h-2.2M126.50 465.97h-2.2M126.50 462.90h-2.2M126.50 459.83h-3.4M126.50 456.77h-2.2M126.50 453.70h-2.2M126.50 450.63h-2.2M126.50 447.57h-2.2M126.50 444.50h-3.4M126.50 536.50v4.2M133.05 536.50v2.4M136.88 536.50v2.4M139.59 536.50v2.4M141.70 536.50v2.4M143.42 536.50v2.4M144.88 536.50v2.4M146.14 536.50v2.4M147.25 536.50v2.4M148.25 536.50v4.2M154.80 536.50v2.4M158.63 536.50v2.4M161.34 536.50v2.4M163.45 536.50v2.4M165.17 536.50v2.4M166.63 536.50v2.4M167.89 536.50v2.4M169.00 536.50v2.4M170.00 536.50v4.2M176.55 536.50v2.4M180.38 536.50v2.4M183.09 536.50v2.4M185.20 536.50v2.4M186.92 536.50v2.4M188.38 536.50v2.4M189.64 536.50v2.4M190.75 536.50v2.4M191.75 536.50v4.2M198.30 536.50v2.4M202.13 536.50v2.4M204.84 536.50v2.4M206.95 536.50v2.4M208.67 536.50v2.4M210.13 536.50v2.4M211.39 536.50v2.4M212.50 536.50v2.4M213.50 536.50v4.2" stroke="#1e1e1e" stroke-width="1" fill="none"/>
<path d="M154 499.9H212.90" stroke="#d0d0d0" stroke-width="1.5"/>
<path d="M154 492.8V507.2" stroke="#b4b4b4" stroke-width="1.8"/>
<text x="182.75" y="463.40" font-size="15.5" textLength="17.25" lengthAdjust="spacingAndGlyphs" >98</text>
<text x="182.37" y="482.70" font-size="15.5" textLength="31.72" lengthAdjust="spacingAndGlyphs" >±1%</text>
<path d="M226.00 537.50V535.46H226.85V535.47H227.70V535.87H228.55V536.48H229.40V536.46H230.25V536.28H231.10V536.60H231.95V536.76H232.80V534.69H233.65V531.40H234.50V533.49H235.35V535.92H236.20V534.87H237.05V536.27H237.90V535.85H238.75V535.80H239.60V535.43H240.45V531.27H241.30V533.16H242.15V534.47H243.00V534.40H243.85V535.09H244.70V533.57H245.55V535.35H246.40V529.24H247.25V526.23H248.10V525.88H248.95V523.15H249.80V520.28H250.65V517.78H251.50V517.79H252.35V511.39H253.20V509.06H254.05V498.62H254.90V497.37H255.75V497.70H256.60V488.81H257.45V485.83H258.30V484.03H259.15V480.95H260.00V475.06H260.85V472.43H261.70V469.86H262.55V470.64H263.40V464.17H264.25V463.07H265.10V459.60H265.95V454.33H266.80V453.60H267.65V454.46H268.50V456.59H269.35V460.35H270.20V457.80H271.05V449.87H271.90V449.11H272.75V450.00H273.60V456.88H274.45V465.27H275.30V470.87H276.15V479.94H277.00V480.17H277.85V489.27H278.70V498.79H279.55V509.35H280.40V515.87H281.25V517.87H282.10V521.26H282.95V526.88H283.80V529.80H284.65V533.80H285.50V532.09H286.35V533.03H287.20V532.72H288.05V532.58H288.90V533.19H289.75V534.61H290.60V535.57H291.45V535.68H292.30V535.85H293.15V536.41H294.00V535.57H294.85V535.73H295.70V536.43H296.55V535.84H297.40V535.63H298.25V535.62H299.10V536.27H299.95V536.02H300.80V536.84H301.65V536.74H302.50V536.89H303.35V536.02H304.20V535.82H305.05V535.86H305.90V536.37H306.75V536.65H307.60V536.35H308.45V536.11H309.30V536.35H310.15V536.62H311.00V537.50Z" fill="#1f1f1f"/>
<path d="M266.6 444.5V456" stroke="#333" stroke-width="0.9"/>
<rect x="225.5" y="444.5" width="86.00" height="93.00" fill="none" stroke="#1e1e1e" stroke-width="1.1"/>
<path d="M225.50 537.50h-3.4M225.50 534.40h-2.2M225.50 531.30h-2.2M225.50 528.20h-2.2M225.50 525.10h-2.2M225.50 522.00h-3.4M225.50 518.90h-2.2M225.50 515.80h-2.2M225.50 512.70h-2.2M225.50 509.60h-2.2M225.50 506.50h-3.4M225.50 503.40h-2.2M225.50 500.30h-2.2M225.50 497.20h-2.2M225.50 494.10h-2.2M225.50 491.00h-3.4M225.50 487.90h-2.2M225.50 484.80h-2.2M225.50 481.70h-2.2M225.50 478.60h-2.2M225.50 475.50h-3.4M225.50 472.40h-2.2M225.50 469.30h-2.2M225.50 466.20h-2.2M225.50 463.10h-2.2M225.50 460.00h-3.4M225.50 456.90h-2.2M225.50 453.80h-2.2M225.50 450.70h-2.2M225.50 447.60h-2.2M225.50 444.50h-3.4M225.50 537.50v4.2M231.97 537.50v2.4M235.76 537.50v2.4M238.44 537.50v2.4M240.53 537.50v2.4M242.23 537.50v2.4M243.67 537.50v2.4M244.92 537.50v2.4M246.02 537.50v2.4M247.00 537.50v4.2M253.47 537.50v2.4M257.26 537.50v2.4M259.94 537.50v2.4M262.03 537.50v2.4M263.73 537.50v2.4M265.17 537.50v2.4M266.42 537.50v2.4M267.52 537.50v2.4M268.50 537.50v4.2M274.97 537.50v2.4M278.76 537.50v2.4M281.44 537.50v2.4M283.53 537.50v2.4M285.23 537.50v2.4M286.67 537.50v2.4M287.92 537.50v2.4M289.02 537.50v2.4M290.00 537.50v4.2M296.47 537.50v2.4M300.26 537.50v2.4M302.94 537.50v2.4M305.03 537.50v2.4M306.73 537.50v2.4M308.17 537.50v2.4M309.42 537.50v2.4M310.52 537.50v2.4M311.50 537.50v4.2" stroke="#1e1e1e" stroke-width="1" fill="none"/>
<path d="M254.2 499.9H310.90" stroke="#d0d0d0" stroke-width="1.5"/>
<path d="M254.2 492.8V507.2" stroke="#b4b4b4" stroke-width="1.8"/>
<text x="279.76" y="463.40" font-size="15.5" textLength="17.17" lengthAdjust="spacingAndGlyphs" >90</text>
<text x="279.37" y="482.70" font-size="15.5" textLength="31.72" lengthAdjust="spacingAndGlyphs" >±3%</text>
<path d="M324.00 536.50V534.66H324.85V533.54H325.70V532.52H326.55V530.50H327.40V529.51H328.25V532.83H329.10V533.34H329.95V534.71H330.80V533.47H331.65V533.27H332.50V531.10H333.35V530.28H334.20V529.37H335.05V528.46H335.90V529.45H336.75V528.45H337.60V527.58H338.45V527.21H339.30V526.84H340.15V522.86H341.00V520.16H341.85V520.81H342.70V519.24H343.55V519.25H344.40V512.21H345.25V510.35H346.10V506.46H346.95V499.30H347.80V497.92H348.65V499.38H349.50V500.05H350.35V491.50H351.20V484.61H352.05V485.11H352.90V477.16H353.75V473.22H354.60V475.08H355.45V462.53H356.30V459.03H357.15V464.01H358.00V461.37H358.85V459.07H359.70V465.60H360.55V465.68H361.40V466.93H362.25V467.04H363.10V472.11H363.95V474.30H364.80V472.64H365.65V481.02H366.50V475.50H367.35V480.10H368.20V483.56H369.05V485.98H369.90V490.84H370.75V495.35H371.60V495.99H372.45V499.96H373.30V502.79H374.15V508.92H375.00V508.82H375.85V508.24H376.70V508.46H377.55V512.68H378.40V519.25H379.25V524.86H380.10V524.21H380.95V527.34H381.80V531.65H382.65V531.69H383.50V532.26H384.35V533.20H385.20V534.90H386.05V533.97H386.90V534.54H387.75V534.42H388.60V534.69H389.45V535.80H390.30V532.93H391.15V533.22H392.00V534.44H392.85V535.46H393.70V534.64H394.55V534.41H395.40V535.48H396.25V534.91H397.10V535.38H397.95V534.89H398.80V535.89H399.65V534.08H400.50V530.07H401.35V534.42H402.20V535.23H403.05V535.31H403.90V535.69H404.75V534.71H405.60V535.43H406.45V535.17H407.30V535.39H408.15V535.00H409.00V536.50Z" fill="#1f1f1f"/>
<path d="M360.2 443.5V460" stroke="#333" stroke-width="0.9"/>
<rect x="323.5" y="443.5" width="86.00" height="93.00" fill="none" stroke="#1e1e1e" stroke-width="1.1"/>
<path d="M323.50 536.50h-3.4M323.50 533.40h-2.2M323.50 530.30h-2.2M323.50 527.20h-2.2M323.50 524.10h-2.2M323.50 521.00h-3.4M323.50 517.90h-2.2M323.50 514.80h-2.2M323.50 511.70h-2.2M323.50 508.60h-2.2M323.50 505.50h-3.4M323.50 502.40h-2.2M323.50 499.30h-2.2M323.50 496.20h-2.2M323.50 493.10h-2.2M323.50 490.00h-3.4M323.50 486.90h-2.2M323.50 483.80h-2.2M323.50 480.70h-2.2M323.50 477.60h-2.2M323.50 474.50h-3.4M323.50 471.40h-2.2M323.50 468.30h-2.2M323.50 465.20h-2.2M323.50 462.10h-2.2M323.50 459.00h-3.4M323.50 455.90h-2.2M323.50 452.80h-2.2M323.50 449.70h-2.2M323.50 446.60h-2.2M323.50 443.50h-3.4M323.50 536.50v4.2M329.97 536.50v2.4M333.76 536.50v2.4M336.44 536.50v2.4M338.53 536.50v2.4M340.23 536.50v2.4M341.67 536.50v2.4M342.92 536.50v2.4M344.02 536.50v2.4M345.00 536.50v4.2M351.47 536.50v2.4M355.26 536.50v2.4M357.94 536.50v2.4M360.03 536.50v2.4M361.73 536.50v2.4M363.17 536.50v2.4M364.42 536.50v2.4M365.52 536.50v2.4M366.50 536.50v4.2M372.97 536.50v2.4M376.76 536.50v2.4M379.44 536.50v2.4M381.53 536.50v2.4M383.23 536.50v2.4M384.67 536.50v2.4M385.92 536.50v2.4M387.02 536.50v2.4M388.00 536.50v4.2M394.47 536.50v2.4M398.26 536.50v2.4M400.94 536.50v2.4M403.03 536.50v2.4M404.73 536.50v2.4M406.17 536.50v2.4M407.42 536.50v2.4M408.52 536.50v2.4M409.50 536.50v4.2" stroke="#1e1e1e" stroke-width="1" fill="none"/>
<path d="M351.6 499.9H408.90" stroke="#d0d0d0" stroke-width="1.5"/>
<path d="M351.6 492.8V507.2" stroke="#b4b4b4" stroke-width="1.8"/>
<text x="377.17" y="462.50" font-size="15.5" textLength="17.34" lengthAdjust="spacingAndGlyphs" >73</text>
<text x="376.87" y="481.70" font-size="15.5" textLength="31.72" lengthAdjust="spacingAndGlyphs" >±7%</text>
<path d="M422.00 536.50V522.67H422.85V527.95H423.70V534.86H424.55V531.39H425.40V532.99H426.25V533.37H427.10V533.56H427.95V532.61H428.80V531.97H429.65V530.70H430.50V529.62H431.35V528.27H432.20V527.76H433.05V528.81H433.90V528.17H434.75V528.79H435.60V528.44H436.45V528.69H437.30V527.89H438.15V529.53H439.00V520.24H439.85V511.36H440.70V508.50H441.55V502.19H442.40V489.79H443.25V482.31H444.10V473.00H444.95V466.87H445.80V475.86H446.65V477.61H447.50V472.88H448.35V469.90H449.20V464.25H450.05V452.78H450.90V460.71H451.75V464.74H452.60V456.35H453.45V460.25H454.30V468.31H455.15V462.46H456.00V455.33H456.85V454.04H457.70V450.63H458.55V446.70H459.40V452.90H460.25V461.27H461.10V471.74H461.95V473.74H462.80V470.43H463.65V466.41H464.50V473.51H465.35V483.94H466.20V484.82H467.05V486.63H467.90V485.97H468.75V487.86H469.60V492.76H470.45V501.31H471.30V503.56H472.15V508.77H473.00V515.21H473.85V517.06H474.70V525.46H475.55V532.86H476.40V532.47H477.25V536.50H478.10V534.93H478.95V531.03H479.80V529.36H480.65V536.50H481.50V534.42H482.35V536.50H483.20V536.35H484.05V536.50H484.90V536.06H485.75V536.50H486.60V536.50H487.45V536.50H488.30V536.50H489.15V536.13H490.00V536.50H490.85V536.49H491.70V536.50H492.55V536.50H493.40V536.10H494.25V536.50H495.10V536.50H495.95V535.98H496.80V536.32H497.65V536.50H498.50V536.09H499.35V536.50H500.20V536.23H501.05V536.50H501.90V536.07H502.75V536.50H503.60V536.50H504.45V536.15H505.30V536.22H506.15V536.50H507.00V536.50Z" fill="#1f1f1f"/>
<path d="M459.2 444.5V447" stroke="#333" stroke-width="0.9"/>
<rect x="421.5" y="444.5" width="86.00" height="92.00" fill="none" stroke="#1e1e1e" stroke-width="1.1"/>
<path d="M421.50 536.50h-3.4M421.50 533.43h-2.2M421.50 530.37h-2.2M421.50 527.30h-2.2M421.50 524.23h-2.2M421.50 521.17h-3.4M421.50 518.10h-2.2M421.50 515.03h-2.2M421.50 511.97h-2.2M421.50 508.90h-2.2M421.50 505.83h-3.4M421.50 502.77h-2.2M421.50 499.70h-2.2M421.50 496.63h-2.2M421.50 493.57h-2.2M421.50 490.50h-3.4M421.50 487.43h-2.2M421.50 484.37h-2.2M421.50 481.30h-2.2M421.50 478.23h-2.2M421.50 475.17h-3.4M421.50 472.10h-2.2M421.50 469.03h-2.2M421.50 465.97h-2.2M421.50 462.90h-2.2M421.50 459.83h-3.4M421.50 456.77h-2.2M421.50 453.70h-2.2M421.50 450.63h-2.2M421.50 447.57h-2.2M421.50 444.50h-3.4M421.50 536.50v4.2M427.97 536.50v2.4M431.76 536.50v2.4M434.44 536.50v2.4M436.53 536.50v2.4M438.23 536.50v2.4M439.67 536.50v2.4M440.92 536.50v2.4M442.02 536.50v2.4M443.00 536.50v4.2M449.47 536.50v2.4M453.26 536.50v2.4M455.94 536.50v2.4M458.03 536.50v2.4M459.73 536.50v2.4M461.17 536.50v2.4M462.42 536.50v2.4M463.52 536.50v2.4M464.50 536.50v4.2M470.97 536.50v2.4M474.76 536.50v2.4M477.44 536.50v2.4M479.53 536.50v2.4M481.23 536.50v2.4M482.67 536.50v2.4M483.92 536.50v2.4M485.02 536.50v2.4M486.00 536.50v4.2M492.47 536.50v2.4M496.26 536.50v2.4M498.94 536.50v2.4M501.03 536.50v2.4M502.73 536.50v2.4M504.17 536.50v2.4M505.42 536.50v2.4M506.52 536.50v2.4M507.50 536.50v4.2" stroke="#1e1e1e" stroke-width="1" fill="none"/>
<path d="M448.2 499.9H506.90" stroke="#d0d0d0" stroke-width="1.5"/>
<path d="M448.2 492.8V507.2" stroke="#b4b4b4" stroke-width="1.8"/>
<text x="472.37" y="463.40" font-size="15.5" textLength="17.34" lengthAdjust="spacingAndGlyphs" >63</text>
<text x="472.07" y="482.70" font-size="15.5" textLength="31.72" lengthAdjust="spacingAndGlyphs" >±3%</text>
<path d="M29.00 660.50V657.19H29.85V656.41H30.70V656.32H31.55V655.96H32.40V656.86H33.25V656.14H34.10V656.16H34.95V654.68H35.80V655.33H36.65V653.92H37.50V654.25H38.35V654.08H39.20V653.27H40.05V653.65H40.90V651.51H41.75V650.15H42.60V649.60H43.45V645.60H44.30V646.70H45.15V644.04H46.00V639.58H46.85V636.88H47.70V628.13H48.55V628.17H49.40V620.00H50.25V613.25H51.10V610.89H51.95V604.42H52.80V598.66H53.65V597.73H54.50V588.15H55.35V590.35H56.20V588.65H57.05V586.03H57.90V581.97H58.75V574.44H59.60V570.06H60.45V570.51H61.30V574.09H62.15V580.48H63.00V588.15H63.85V595.04H64.70V595.15H65.55V599.45H66.40V616.06H67.25V619.68H68.10V627.21H68.95V635.92H69.80V635.84H70.65V640.42H71.50V643.71H72.35V644.53H73.20V646.79H74.05V647.82H74.90V650.26H75.75V651.67H76.60V651.77H77.45V653.12H78.30V653.24H79.15V653.08H80.00V654.86H80.85V654.15H81.70V654.47H82.55V654.86H83.40V656.33H84.25V657.24H85.10V657.56H85.95V657.34H86.80V657.55H87.65V657.56H88.50V659.09H89.35V659.10H90.20V658.82H91.05V659.20H91.90V658.97H92.75V659.57H93.60V659.34H94.45V658.76H95.30V659.56H96.15V658.53H97.00V659.13H97.85V658.99H98.70V658.79H99.55V658.58H100.40V659.47H101.25V658.55H102.10V659.21H102.95V659.69H103.80V658.73H104.65V658.81H105.50V659.31H106.35V659.20H107.20V659.37H108.05V659.59H108.90V658.83H109.75V659.00H110.60V659.00H111.45V658.70H112.30V659.73H113.15V659.61H114.00V659.54H114.85V658.69H115.70V659.71H116.00V660.50Z" fill="#1f1f1f"/>
<rect x="28.5" y="566.5" width="88.00" height="94.00" fill="none" stroke="#1e1e1e" stroke-width="1.1"/>
<path d="M28.50 660.50h-3.4M28.50 657.37h-2.2M28.50 654.23h-2.2M28.50 651.10h-2.2M28.50 647.97h-2.2M28.50 644.83h-3.4M28.50 641.70h-2.2M28.50 638.57h-2.2M28.50 635.43h-2.2M28.50 632.30h-2.2M28.50 629.17h-3.4M28.50 626.03h-2.2M28.50 622.90h-2.2M28.50 619.77h-2.2M28.50 616.63h-2.2M28.50 613.50h-3.4M28.50 610.37h-2.2M28.50 607.23h-2.2M28.50 604.10h-2.2M28.50 600.97h-2.2M28.50 597.83h-3.4M28.50 594.70h-2.2M28.50 591.57h-2.2M28.50 588.43h-2.2M28.50 585.30h-2.2M28.50 582.17h-3.4M28.50 579.03h-2.2M28.50 575.90h-2.2M28.50 572.77h-2.2M28.50 569.63h-2.2M28.50 566.50h-3.4M28.50 660.50v4.2M35.12 660.50v2.4M39.00 660.50v2.4M41.75 660.50v2.4M43.88 660.50v2.4M45.62 660.50v2.4M47.09 660.50v2.4M48.37 660.50v2.4M49.49 660.50v2.4M50.50 660.50v4.2M57.12 660.50v2.4M61.00 660.50v2.4M63.75 660.50v2.4M65.88 660.50v2.4M67.62 660.50v2.4M69.09 660.50v2.4M70.37 660.50v2.4M71.49 660.50v2.4M72.50 660.50v4.2M79.12 660.50v2.4M83.00 660.50v2.4M85.75 660.50v2.4M87.88 660.50v2.4M89.62 660.50v2.4M91.09 660.50v2.4M92.37 660.50v2.4M93.49 660.50v2.4M94.50 660.50v4.2M101.12 660.50v2.4M105.00 660.50v2.4M107.75 660.50v2.4M109.88 660.50v2.4M111.62 660.50v2.4M113.09 660.50v2.4M114.37 660.50v2.4M115.49 660.50v2.4M116.50 660.50v4.2" stroke="#1e1e1e" stroke-width="1" fill="none"/>
<path d="M57.1 626.3H115.90" stroke="#d0d0d0" stroke-width="1.5"/>
<path d="M57.1 618.7V633" stroke="#b4b4b4" stroke-width="1.8"/>
<text x="82.83" y="586.40" font-size="15.5" textLength="17.34" lengthAdjust="spacingAndGlyphs" >37</text>
<text x="82.37" y="605.70" font-size="15.5" textLength="31.72" lengthAdjust="spacingAndGlyphs" >±6%</text>
<path d="M125.00 660.50V658.76H125.85V658.38H126.70V658.69H127.55V658.29H128.40V657.97H129.25V657.78H130.10V657.91H130.95V657.63H131.80V657.96H132.65V658.44H133.50V658.33H134.35V658.48H135.20V658.41H136.05V656.22H136.90V654.64H137.75V656.96H138.60V658.59H139.45V657.95H140.30V657.55H141.15V657.97H142.00V658.33H142.85V657.32H143.70V658.11H144.55V656.94H145.40V657.05H146.25V655.39H147.10V654.79H147.95V654.81H148.80V653.86H149.65V652.75H150.50V653.31H151.35V651.86H152.20V650.51H153.05V650.98H153.90V649.25H154.75V647.41H155.60V644.86H156.45V643.33H157.30V636.58H158.15V634.76H159.00V628.76H159.85V624.83H160.70V615.90H161.55V611.93H162.40V604.80H163.25V596.92H164.10V590.64H164.95V588.67H165.80V579.80H166.65V580.37H167.50V569.66H168.35V566.58H169.20V566.10H170.05V569.60H170.90V567.52H171.75V571.64H172.60V574.95H173.45V577.15H174.30V582.02H175.15V587.51H176.00V594.08H176.85V607.34H177.70V614.12H178.55V624.79H179.40V629.59H180.25V638.05H181.10V642.80H181.95V645.10H182.80V643.61H183.65V648.99H184.50V650.98H185.35V652.67H186.20V651.68H187.05V653.56H187.90V654.24H188.75V655.01H189.60V657.61H190.45V658.29H191.30V658.26H192.15V658.56H193.00V658.32H193.85V657.94H194.70V657.76H195.55V657.81H196.40V658.71H197.25V658.07H198.10V658.27H198.95V658.46H199.80V658.01H200.65V658.36H201.50V658.45H202.35V659.06H203.20V658.68H204.05V658.67H204.90V659.55H205.75V659.02H206.60V659.52H207.45V659.28H208.30V658.59H209.15V659.14H210.00V659.22H210.85V659.71H211.70V659.23H212.55V659.73H213.00V660.50Z" fill="#1f1f1f"/>
<rect x="124.5" y="565.5" width="89.00" height="95.00" fill="none" stroke="#1e1e1e" stroke-width="1.1"/>
<path d="M124.50 660.50h-3.4M124.50 657.33h-2.2M124.50 654.17h-2.2M124.50 651.00h-2.2M124.50 647.83h-2.2M124.50 644.67h-3.4M124.50 641.50h-2.2M124.50 638.33h-2.2M124.50 635.17h-2.2M124.50 632.00h-2.2M124.50 628.83h-3.4M124.50 625.67h-2.2M124.50 622.50h-2.2M124.50 619.33h-2.2M124.50 616.17h-2.2M124.50 613.00h-3.4M124.50 609.83h-2.2M124.50 606.67h-2.2M124.50 603.50h-2.2M124.50 600.33h-2.2M124.50 597.17h-3.4M124.50 594.00h-2.2M124.50 590.83h-2.2M124.50 587.67h-2.2M124.50 584.50h-2.2M124.50 581.33h-3.4M124.50 578.17h-2.2M124.50 575.00h-2.2M124.50 571.83h-2.2M124.50 568.67h-2.2M124.50 565.50h-3.4M124.50 660.50v4.2M131.20 660.50v2.4M135.12 660.50v2.4M137.90 660.50v2.4M140.05 660.50v2.4M141.81 660.50v2.4M143.30 660.50v2.4M144.59 660.50v2.4M145.73 660.50v2.4M146.75 660.50v4.2M153.45 660.50v2.4M157.37 660.50v2.4M160.15 660.50v2.4M162.30 660.50v2.4M164.06 660.50v2.4M165.55 660.50v2.4M166.84 660.50v2.4M167.98 660.50v2.4M169.00 660.50v4.2M175.70 660.50v2.4M179.62 660.50v2.4M182.40 660.50v2.4M184.55 660.50v2.4M186.31 660.50v2.4M187.80 660.50v2.4M189.09 660.50v2.4M190.23 660.50v2.4M191.25 660.50v4.2M197.95 660.50v2.4M201.87 660.50v2.4M204.65 660.50v2.4M206.80 660.50v2.4M208.56 660.50v2.4M210.05 660.50v2.4M211.34 660.50v2.4M212.48 660.50v2.4M213.50 660.50v4.2" stroke="#1e1e1e" stroke-width="1" fill="none"/>
<path d="M154.6 626.3H212.90" stroke="#d0d0d0" stroke-width="1.5"/>
<path d="M154.6 617.7V633" stroke="#b4b4b4" stroke-width="1.8"/>
<text x="182.25" y="586.40" font-size="15.5" textLength="17.42" lengthAdjust="spacingAndGlyphs" >92</text>
<text x="181.87" y="605.70" font-size="15.5" textLength="31.72" lengthAdjust="spacingAndGlyphs" >±4%</text>
<path d="M224.00 660.50V657.89H224.85V657.10H225.70V657.78H226.55V656.25H227.40V657.08H228.25V655.74H229.10V655.15H229.95V655.15H230.80V655.71H231.65V655.77H232.50V654.09H233.35V654.59H234.20V654.36H235.05V654.55H235.90V652.58H236.75V652.36H237.60V651.21H238.45V651.53H239.30V648.65H240.15V648.91H241.00V645.06H241.85V642.88H242.70V642.38H243.55V639.42H244.40V635.38H245.25V633.77H246.10V626.07H246.95V625.82H247.80V620.17H248.65V613.79H249.50V605.79H250.35V598.79H251.20V594.80H252.05V590.04H252.90V587.72H253.75V576.22H254.60V576.50H255.45V570.15H256.30V570.94H257.15V573.31H258.00V579.38H258.85V581.10H259.70V586.00H260.55V595.32H261.40V596.40H262.25V599.68H263.10V603.73H263.95V615.98H264.80V618.71H265.65V618.75H266.50V619.29H267.35V616.54H268.20V612.78H269.05V612.76H269.90V609.36H270.75V613.77H271.60V615.21H272.45V621.87H273.30V627.98H274.15V629.38H275.00V629.99H275.85V634.25H276.70V639.02H277.55V639.04H278.40V642.48H279.25V645.53H280.10V643.97H280.95V642.34H281.80V639.10H282.65V638.22H283.50V645.77H284.35V650.30H285.20V653.15H286.05V653.71H286.90V655.83H287.75V656.19H288.60V658.49H289.45V658.61H290.30V658.10H291.15V659.73H292.00V658.50H292.85V658.91H293.70V659.66H294.55V659.45H295.40V659.40H296.25V659.05H297.10V658.78H297.95V659.34H298.80V658.71H299.65V658.85H300.50V659.09H301.35V658.68H302.20V659.14H303.05V659.64H303.90V659.54H304.75V659.33H305.60V659.51H306.45V659.32H307.30V658.95H308.15V659.53H309.00V659.31H309.85V659.74H310.70V659.96H311.55V659.40H312.00V660.50Z" fill="#1f1f1f"/>
<path d="M256.5 565.5V572" stroke="#333" stroke-width="0.9"/>
<rect x="223.5" y="565.5" width="89.00" height="95.00" fill="none" stroke="#1e1e1e" stroke-width="1.1"/>
<path d="M223.50 660.50h-3.4M223.50 657.33h-2.2M223.50 654.17h-2.2M223.50 651.00h-2.2M223.50 647.83h-2.2M223.50 644.67h-3.4M223.50 641.50h-2.2M223.50 638.33h-2.2M223.50 635.17h-2.2M223.50 632.00h-2.2M223.50 628.83h-3.4M223.50 625.67h-2.2M223.50 622.50h-2.2M223.50 619.33h-2.2M223.50 616.17h-2.2M223.50 613.00h-3.4M223.50 609.83h-2.2M223.50 606.67h-2.2M223.50 603.50h-2.2M223.50 600.33h-2.2M223.50 597.17h-3.4M223.50 594.00h-2.2M223.50 590.83h-2.2M223.50 587.67h-2.2M223.50 584.50h-2.2M223.50 581.33h-3.4M223.50 578.17h-2.2M223.50 575.00h-2.2M223.50 571.83h-2.2M223.50 568.67h-2.2M223.50 565.50h-3.4M223.50 660.50v4.2M230.20 660.50v2.4M234.12 660.50v2.4M236.90 660.50v2.4M239.05 660.50v2.4M240.81 660.50v2.4M242.30 660.50v2.4M243.59 660.50v2.4M244.73 660.50v2.4M245.75 660.50v4.2M252.45 660.50v2.4M256.37 660.50v2.4M259.15 660.50v2.4M261.30 660.50v2.4M263.06 660.50v2.4M264.55 660.50v2.4M265.84 660.50v2.4M266.98 660.50v2.4M268.00 660.50v4.2M274.70 660.50v2.4M278.62 660.50v2.4M281.40 660.50v2.4M283.55 660.50v2.4M285.31 660.50v2.4M286.80 660.50v2.4M288.09 660.50v2.4M289.23 660.50v2.4M290.25 660.50v4.2M296.95 660.50v2.4M300.87 660.50v2.4M303.65 660.50v2.4M305.80 660.50v2.4M307.56 660.50v2.4M309.05 660.50v2.4M310.34 660.50v2.4M311.48 660.50v2.4M312.50 660.50v4.2" stroke="#1e1e1e" stroke-width="1" fill="none"/>
<path d="M254 626.3H311.90" stroke="#d0d0d0" stroke-width="1.5"/>
<path d="M254 618.7V633" stroke="#b4b4b4" stroke-width="1.8"/>
<text x="279.83" y="586.40" font-size="15.5" textLength="17.17" lengthAdjust="spacingAndGlyphs" >53</text>
<text x="279.37" y="605.70" font-size="15.5" textLength="31.72" lengthAdjust="spacingAndGlyphs" >±7%</text>
<path d="M322.00 660.50V594.69H322.85V596.39H323.70V607.98H324.55V648.02H325.40V650.80H326.25V649.12H327.10V649.47H327.95V650.02H328.80V650.67H329.65V649.58H330.50V647.85H331.35V645.52H332.20V642.60H333.05V640.75H333.90V634.50H334.75V631.13H335.60V628.50H336.45V622.17H337.30V615.58H338.15V606.83H339.00V602.04H339.85V596.84H340.70V593.85H341.55V588.40H342.40V586.47H343.25V584.69H344.10V574.89H344.95V572.02H345.80V572.14H346.65V577.89H347.50V578.80H348.35V579.51H349.20V578.45H350.05V581.13H350.90V583.18H351.75V590.73H352.60V595.29H353.45V596.20H354.30V597.36H355.15V603.25H356.00V606.56H356.85V611.90H357.70V614.99H358.55V620.08H359.40V625.33H360.25V626.45H361.10V627.71H361.95V631.15H362.80V630.52H363.65V632.98H364.50V633.32H365.35V635.42H366.20V635.15H367.05V639.45H367.90V639.19H368.75V639.93H369.60V642.29H370.45V644.37H371.30V644.93H372.15V647.26H373.00V648.35H373.85V650.11H374.70V650.35H375.55V651.06H376.40V651.64H377.25V653.31H378.10V654.32H378.95V654.16H379.80V653.89H380.65V654.97H381.50V654.55H382.35V654.48H383.20V654.50H384.05V655.86H384.90V656.83H385.75V657.37H386.60V657.86H387.45V658.89H388.30V658.56H389.15V659.67H390.00V658.87H390.85V659.24H391.70V659.48H392.55V659.50H393.40V659.09H394.25V658.90H395.10V659.23H395.95V658.73H396.80V659.62H397.65V659.05H398.50V659.68H399.35V658.98H400.20V659.13H401.05V659.00H401.90V659.23H402.75V658.96H403.60V658.76H404.45V659.65H405.30V659.13H406.15V659.11H407.00V659.20H407.85V659.44H408.70V659.39H409.55V659.67H410.00V660.50Z" fill="#1f1f1f"/>
<rect x="321.5" y="566.5" width="89.00" height="94.00" fill="none" stroke="#1e1e1e" stroke-width="1.1"/>
<path d="M321.50 660.50h-3.4M321.50 657.37h-2.2M321.50 654.23h-2.2M321.50 651.10h-2.2M321.50 647.97h-2.2M321.50 644.83h-3.4M321.50 641.70h-2.2M321.50 638.57h-2.2M321.50 635.43h-2.2M321.50 632.30h-2.2M321.50 629.17h-3.4M321.50 626.03h-2.2M321.50 622.90h-2.2M321.50 619.77h-2.2M321.50 616.63h-2.2M321.50 613.50h-3.4M321.50 610.37h-2.2M321.50 607.23h-2.2M321.50 604.10h-2.2M321.50 600.97h-2.2M321.50 597.83h-3.4M321.50 594.70h-2.2M321.50 591.57h-2.2M321.50 588.43h-2.2M321.50 585.30h-2.2M321.50 582.17h-3.4M321.50 579.03h-2.2M321.50 575.90h-2.2M321.50 572.77h-2.2M321.50 569.63h-2.2M321.50 566.50h-3.4M321.50 660.50v4.2M328.20 660.50v2.4M332.12 660.50v2.4M334.90 660.50v2.4M337.05 660.50v2.4M338.81 660.50v2.4M340.30 660.50v2.4M341.59 660.50v2.4M342.73 660.50v2.4M343.75 660.50v4.2M350.45 660.50v2.4M354.37 660.50v2.4M357.15 660.50v2.4M359.30 660.50v2.4M361.06 660.50v2.4M362.55 660.50v2.4M363.84 660.50v2.4M364.98 660.50v2.4M366.00 660.50v4.2M372.70 660.50v2.4M376.62 660.50v2.4M379.40 660.50v2.4M381.55 660.50v2.4M383.31 660.50v2.4M384.80 660.50v2.4M386.09 660.50v2.4M387.23 660.50v2.4M388.25 660.50v4.2M394.95 660.50v2.4M398.87 660.50v2.4M401.65 660.50v2.4M403.80 660.50v2.4M405.56 660.50v2.4M407.05 660.50v2.4M408.34 660.50v2.4M409.48 660.50v2.4M410.50 660.50v4.2" stroke="#1e1e1e" stroke-width="1" fill="none"/>
<path d="M352 626.3H409.90" stroke="#d0d0d0" stroke-width="1.5"/>
<path d="M352 618.7V634" stroke="#b4b4b4" stroke-width="1.8"/>
<text x="376.87" y="586.40" font-size="15.5" textLength="17.34" lengthAdjust="spacingAndGlyphs" >26</text>
<text x="376.57" y="605.70" font-size="15.5" textLength="31.72" lengthAdjust="spacingAndGlyphs" >±6%</text>
<path d="M420.00 660.50V635.92H420.85V641.55H421.70V657.01H422.55V655.71H423.40V651.99H424.25V652.86H425.10V652.45H425.95V651.66H426.80V649.78H427.65V650.09H428.50V647.88H429.35V644.18H430.20V642.42H431.05V643.81H431.90V640.26H432.75V635.78H433.60V629.83H434.45V624.81H435.30V620.10H436.15V618.53H437.00V608.63H437.85V599.11H438.70V596.35H439.55V587.34H440.40V575.31H441.25V571.94H442.10V567.10H442.95V575.23H443.80V570.50H444.65V571.12H445.50V579.94H446.35V585.92H447.20V586.19H448.05V595.20H448.90V599.46H449.75V605.92H450.60V607.85H451.45V614.13H452.30V618.35H453.15V623.24H454.00V630.01H454.85V633.57H455.70V636.99H456.55V637.05H457.40V639.78H458.25V640.55H459.10V643.12H459.95V644.29H460.80V645.55H461.65V647.45H462.50V646.27H463.35V648.98H464.20V648.99H465.05V650.02H465.90V650.89H466.75V651.61H467.60V651.20H468.45V651.70H469.30V653.09H470.15V652.10H471.00V653.81H471.85V654.46H472.70V653.95H473.55V655.51H474.40V655.88H475.25V656.50H476.10V655.85H476.95V657.10H477.80V656.65H478.65V656.88H479.50V657.92H480.35V656.94H481.20V658.55H482.05V658.83H482.90V658.76H483.75V659.52H484.60V658.87H485.45V659.02H486.30V659.10H487.15V659.42H488.00V658.76H488.85V659.05H489.70V659.05H490.55V659.23H491.40V659.58H492.25V658.94H493.10V659.61H493.95V659.11H494.80V659.25H495.65V658.99H496.50V659.29H497.35V659.88H498.20V659.51H499.05V659.69H499.90V659.15H500.75V659.15H501.60V659.15H502.45V659.51H503.30V659.59H504.15V659.79H505.00V658.90H505.85V659.75H506.70V659.96H507.00V660.50Z" fill="#1f1f1f"/>
<rect x="419.5" y="566.5" width="88.00" height="94.00" fill="none" stroke="#1e1e1e" stroke-width="1.1"/>
<path d="M419.50 660.50h-3.4M419.50 657.37h-2.2M419.50 654.23h-2.2M419.50 651.10h-2.2M419.50 647.97h-2.2M419.50 644.83h-3.4M419.50 641.70h-2.2M419.50 638.57h-2.2M419.50 635.43h-2.2M419.50 632.30h-2.2M419.50 629.17h-3.4M419.50 626.03h-2.2M419.50 622.90h-2.2M419.50 619.77h-2.2M419.50 616.63h-2.2M419.50 613.50h-3.4M419.50 610.37h-2.2M419.50 607.23h-2.2M419.50 604.10h-2.2M419.50 600.97h-2.2M419.50 597.83h-3.4M419.50 594.70h-2.2M419.50 591.57h-2.2M419.50 588.43h-2.2M419.50 585.30h-2.2M419.50 582.17h-3.4M419.50 579.03h-2.2M419.50 575.90h-2.2M419.50 572.77h-2.2M419.50 569.63h-2.2M419.50 566.50h-3.4M419.50 660.50v4.2M426.12 660.50v2.4M430.00 660.50v2.4M432.75 660.50v2.4M434.88 660.50v2.4M436.62 660.50v2.4M438.09 660.50v2.4M439.37 660.50v2.4M440.49 660.50v2.4M441.50 660.50v4.2M448.12 660.50v2.4M452.00 660.50v2.4M454.75 660.50v2.4M456.88 660.50v2.4M458.62 660.50v2.4M460.09 660.50v2.4M461.37 660.50v2.4M462.49 660.50v2.4M463.50 660.50v4.2M470.12 660.50v2.4M474.00 660.50v2.4M476.75 660.50v2.4M478.88 660.50v2.4M480.62 660.50v2.4M482.09 660.50v2.4M483.37 660.50v2.4M484.49 660.50v2.4M485.50 660.50v4.2M492.12 660.50v2.4M496.00 660.50v2.4M498.75 660.50v2.4M500.88 660.50v2.4M502.62 660.50v2.4M504.09 660.50v2.4M505.37 660.50v2.4M506.49 660.50v2.4M507.50 660.50v4.2" stroke="#1e1e1e" stroke-width="1" fill="none"/>
<path d="M449.2 626.3H506.90" stroke="#d0d0d0" stroke-width="1.5"/>
<path d="M449.2 618.7V634" stroke="#b4b4b4" stroke-width="1.8"/>
<text x="472.02" y="586.40" font-size="15.5" textLength="16.77" lengthAdjust="spacingAndGlyphs" >15</text>
<text x="472.07" y="605.70" font-size="15.5" textLength="31.72" lengthAdjust="spacingAndGlyphs" >±1%</text>
<text transform="translate(21.1 411.40) rotate(-90)" font-size="15" textLength="85.42" lengthAdjust="spacingAndGlyphs">Leukocytes</text>
<text transform="translate(21.4 533.69) rotate(-90)" font-size="15" textLength="85.95" lengthAdjust="spacingAndGlyphs">CD4 T cells</text>
<text transform="translate(21.4 658.09) rotate(-90)" font-size="15" textLength="86.05" lengthAdjust="spacingAndGlyphs">CD8 T cells</text>
<path d="M23.7 696.9H502" stroke="#1a1a1a" stroke-width="2"/>
<path d="M500.9 688L519 697L500.9 706.2Z" fill="#1a1a1a"/>
<text x="234.76" y="735.20" font-size="22" textLength="73.66" lengthAdjust="spacing" style="stroke-width:0.3px">STAT1</text>
</svg>
</body></html>
